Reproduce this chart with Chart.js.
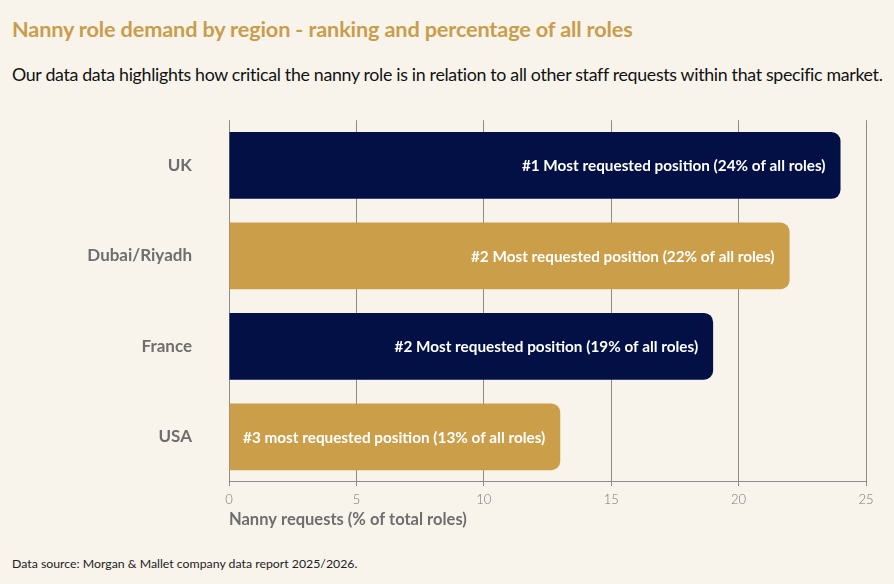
<!DOCTYPE html>
<html>
<head>
<meta charset="utf-8">
<script src="https://cdn.jsdelivr.net/npm/chart.js@4"></script>
<style>
    body { margin: 0; background: #f8f4ec; width: 894px; height: 584px; overflow: hidden; font-family: "Lato", sans-serif; }
    #title { position: absolute; left: 12px; top: 16px; font-size: 21.7px; font-weight: bold; color: #c99d4b; letter-spacing: -0.15px; }
    #subtitle { position: absolute; left: 12px; top: 63px; font-size: 17.8px; color: #111; letter-spacing: -0.32px; }
    #source { position: absolute; left: 12px; top: 556px; font-size: 12.3px; color: #222; }
    #chart-box { position: absolute; left: 0; top: 81px; width: 894px; height: 448.4px; }
</style>
</head>
<body>
<div id="title">Nanny role demand by region - ranking and percentage of all roles</div>
<div id="subtitle">Our data data highlights how critical the nanny role is in relation to all other staff requests within that specific market.</div>
<div id="chart-box"><canvas id="nannyChart"></canvas></div>
<div id="source">Data source: Morgan &amp; Mallet company data report 2025/2026.</div>
<script>
// Chart data
const regions = ["UK", "Dubai/Riyadh", "France", "USA"];
const nannyShare = [24, 22, 19, 13];
const barLabels = [
    "#1 Most requested position (24% of all roles)",
    "#2 Most requested position (22% of all roles)",
    "#2 Most requested position (19% of all roles)",
    "#3 most requested position (13% of all roles)"
];
const xTicks = [0, 5, 10, 15, 20, 25];

const navy = "#021045";
const gold = "#cb9e4a";

// Draw the white labels inside the bars
const barTextPlugin = {
    id: "barText",
    afterDatasetsDraw(chart) {
        const ctx = chart.ctx;
        const meta = chart.getDatasetMeta(0);
        ctx.save();
        ctx.font = "bold 15.3px Lato";
        ctx.fillStyle = "#ffffff";
        ctx.textAlign = "right";
        ctx.textBaseline = "middle";
        meta.data.forEach((bar, i) => {
            ctx.fillText(barLabels[i], bar.x - 15, bar.y + 1);
        });
        ctx.restore();
    }
};

new Chart(document.getElementById("nannyChart"), {
    type: "bar",
    data: {
        labels: regions,
        datasets: [{
            data: nannyShare,
            backgroundColor: regions.map((r, i) => i % 2 === 0 ? navy : gold),
            borderRadius: 9,
            borderSkipped: "start",
            barPercentage: 0.82,
            categoryPercentage: 0.9
        }]
    },
    options: {
        indexAxis: "y",
        responsive: true,
        maintainAspectRatio: false,
        animation: false,
        layout: { padding: { top: 15, right: 28, bottom: 0, left: 0 } },
        plugins: {
            legend: { display: false },
            tooltip: { enabled: false }
        },
        scales: {
            x: {
                min: 0,
                max: 25,
                afterBuildTicks: axis => { axis.ticks = xTicks.map(v => ({ value: v })); },
                grid: { color: "#8c8c8c", lineWidth: 1, tickLength: 4, drawOnChartArea: true },
                border: { color: "#8c8c8c" },
                ticks: { color: "#777", font: { family: "Lato", size: 13, weight: "300" }, padding: 6 },
                title: {
                    display: true,
                    text: "Nanny requests (% of total roles)",
                    align: "start",
                    color: "#6e6e6e",
                    font: { family: "Lato", size: 16.5, weight: "bold" },
                    padding: { top: -4, bottom: 0 }
                }
            },
            y: {
                afterFit: axis => { axis.width = 229; },
                grid: { display: false },
                border: { display: false },
                ticks: { color: "#6e6e6e", font: { family: "Lato", size: 17, weight: "bold" }, padding: 29 }
            }
        }
    },
    plugins: [barTextPlugin]
});
</script>
</body>
</html>
